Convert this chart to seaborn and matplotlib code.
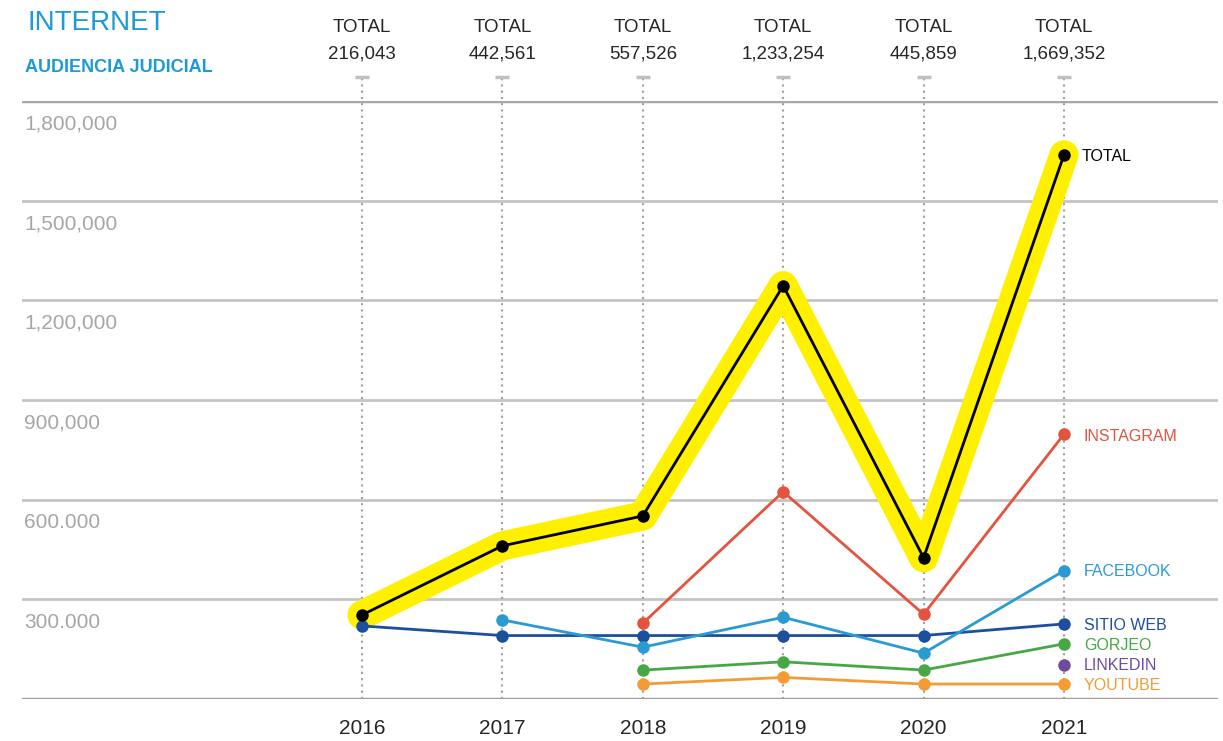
import matplotlib

matplotlib.use("Agg")
import matplotlib.pyplot as plt
import matplotlib.transforms as mtransforms
import numpy as np
import pandas as pd
import seaborn as sns

# Chart data
years = [2016, 2017, 2018, 2019, 2020, 2021]
header_totals = ["216,043", "442,561", "557,526", "1,233,254", "445,859", "1,669,352"]
total = [253000, 461000, 551000, 1244000, 425000, 1638000]
instagram = [np.nan, np.nan, 228000, 624000, 255000, 797000]
facebook = [np.nan, 238000, 156000, 246000, 138000, 386000]
sitio_web = [220000, 191000, 191000, 191000, 191000, 226000]
gorjeo = [np.nan, np.nan, 87000, 112000, 87000, 166000]
linkedin = [np.nan, np.nan, np.nan, np.nan, np.nan, 102000]
youtube = [np.nan, np.nan, 45000, 65000, 45000, 45000]
ytick_values = [300000, 600000, 900000, 1200000, 1500000, 1800000]
ytick_labels = ["300.000", "600.000", "900,000", "1,200,000", "1,500,000", "1,800,000"]

W, H = 1223, 741


def fig_y(py: float) -> float:
    """Pixel row -> figure fraction"""
    return 1 - py / H


def main() -> None:
    """Main function"""

    sns.set_theme(style="white")
    plt.rcParams["font.family"] = ["Liberation Sans", "DejaVu Sans"]

    fig = plt.figure(figsize=(W / 100, H / 100), dpi=100)
    ax = fig.add_axes([22 / W, fig_y(699), 1196 / W, 598 / H])

    # Year spacing is ~140.4 px; 2016 sits at x=362
    ax.set_xlim(2016 - (362 - 22) / 140.4, 2021 + (1218 - 1064) / 140.4)
    ax.set_ylim(0, 1800000)
    for side in ax.spines.values():
        side.set_visible(False)
    px_val = 1800000 / 598  # value per pixel

    # Horizontal grid
    for v in ytick_values[:-1]:
        ax.axhline(v, color="#c4c4c4", lw=2, zorder=1)
    ax.axhline(1800000, color="#a8a8a8", lw=2.5, zorder=1)
    ax.axhline(0, color="#a0a0a0", lw=2.5, zorder=1)

    # Y labels sit just under each grid line
    for v, lab in zip(ytick_values, ytick_labels):
        ax.text(0.002, v - 23 * px_val, lab, transform=ax.get_yaxis_transform(),
                ha="left", va="center", fontsize=15, color="#a6a6a6")

    # Vertical dotted year guides with a small dash on top
    top_val = (699 - 77) * px_val
    for yr in years:
        ax.plot([yr, yr], [0, top_val], color="#a0a0a0", lw=1.5,
                ls=(0, (1, 2)), clip_on=False, zorder=1)
        ax.plot([yr], [top_val], marker="_", ms=10, mew=2.5, color="#c0c0c0",
                clip_on=False, zorder=1)

    # Series
    series = [
        ("SITIO WEB", sitio_web, "#1d4f9f", 625),
        ("FACEBOOK", facebook, "#2a9ad3", 572),
        ("INSTAGRAM", instagram, "#e4533d", 436),
        ("GORJEO", gorjeo, "#46a845", 645),
        ("LINKEDIN", linkedin, "#6f4c9b", 665),
        ("YOUTUBE", youtube, "#f49b34", 686),
    ]
    for name, values, color, label_y in series:
        df = pd.DataFrame({"year": years, "value": values}).dropna()
        sns.lineplot(data=df, x="year", y="value", ax=ax, color=color, lw=2,
                     marker="o", markersize=9, markeredgewidth=0, zorder=3)
        ax.text(2021 + 20 / 140.4, (699 - label_y) * px_val, name,
                ha="left", va="center", fontsize=11.5, color=color)

    # Total with yellow highlight underneath
    df_total = pd.DataFrame({"year": years, "value": total})
    sns.lineplot(data=df_total, x="year", y="value", ax=ax, color="#fff000",
                 lw=21, solid_capstyle="round", solid_joinstyle="round", zorder=2)
    sns.lineplot(data=df_total, x="year", y="value", ax=ax, color="black",
                 lw=2, marker="o", markersize=9, markeredgewidth=0, zorder=5)
    ax.text(2021 + 18 / 140.4, (699 - 156) * px_val, "TOTAL",
            ha="left", va="center", fontsize=11.5, color="black")

    ax.set_xlabel("")
    ax.set_ylabel("")
    ax.set_xticks([])
    ax.set_yticks([])

    # Header totals and year labels (data x, figure y)
    trans = mtransforms.blended_transform_factory(ax.transData, fig.transFigure)
    for yr, tot in zip(years, header_totals):
        fig.text(yr, fig_y(28), "TOTAL", transform=trans, ha="center",
                 va="center", fontsize=13.5)
        fig.text(yr, fig_y(54), tot, transform=trans, ha="center",
                 va="center", fontsize=13.5)
        fig.text(yr, fig_y(729), str(yr), transform=trans, ha="center",
                 va="center", fontsize=15)

    # Titles
    fig.text(28 / W, fig_y(23), "INTERNET", ha="left", va="center",
             fontsize=20, color="#1b9ad6")
    fig.text(25 / W, fig_y(67), "AUDIENCIA JUDICIAL", ha="left",
             va="center", fontsize=13, fontweight="bold", color="#1b9ad6")

    fig.savefig("out.png", dpi=100)


if __name__ == "__main__":
    main()
